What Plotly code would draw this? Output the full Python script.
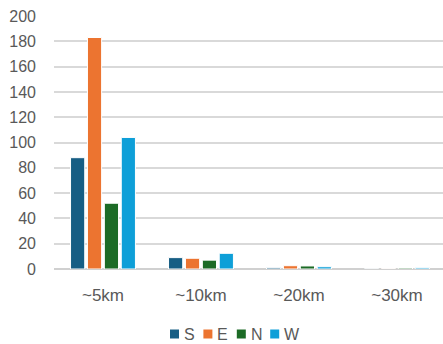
import plotly.graph_objects as go

categories = ["~5km", "~10km", "~20km", "~30km"]
series_names = ["S", "E", "N", "W"]
values_s = [88, 9, 1, 0.2]
values_e = [183, 8.5, 2.6, 0.3]
values_n = [52, 7, 2.4, 0.8]
values_w = [104, 12.4, 1.8, 1.0]
colors = ["#175E84", "#EC7430", "#1C6B26", "#0E9FD8"]
y_ticks = list(range(0, 201, 20))

W, H = 443, 344
ML, MR, MT, MB = 54, 0, 16, 75
PW, PH = W - ML - MR, H - MT - MB

fig = go.Figure()
for name, vals, col in zip(series_names, [values_s, values_e, values_n, values_w], colors):
    fig.add_trace(go.Bar(
        x=categories, y=vals, name=name, showlegend=False,
        marker=dict(color=col, line=dict(color="white", width=1)),
    ))

# compact key row under the axis: small square followed by the series name
def px_x(p):
    return (p - ML) / PW

def px_y(p):
    return (H - MB - p) / PH

key_left, key_pitch, key_size, key_cy = 170, 33.4, 9, 334
for i, (name, col) in enumerate(zip(series_names, colors)):
    x0 = key_left + i * key_pitch
    fig.add_shape(type="rect", xref="paper", yref="paper",
                  x0=px_x(x0), x1=px_x(x0 + key_size),
                  y0=px_y(key_cy - key_size / 2), y1=px_y(key_cy + key_size / 2),
                  fillcolor=col, line=dict(width=0))
    fig.add_annotation(text=name, xref="paper", yref="paper",
                       x=px_x(x0 + key_size + 3), y=px_y(key_cy),
                       xanchor="left", yanchor="middle", showarrow=False,
                       font=dict(size=16, color="#595959"))

font = dict(family="Liberation Sans, Arial, sans-serif", size=16, color="#595959")
fig.update_layout(
    width=W, height=H,
    margin=dict(l=ML, r=MR, t=MT, b=MB, autoexpand=False),
    paper_bgcolor="white", plot_bgcolor="white",
    barmode="group", bargap=0.31, bargroupgap=0.16,
    font=font,
    showlegend=False,
    xaxis=dict(range=[-0.5, 3.47], showgrid=False, showline=False, ticks="",
               ticklabelstandoff=14, tickfont=dict(size=17)),
    yaxis=dict(range=[0, 200], tickvals=y_ticks, showgrid=True, gridcolor="#D9D9D9",
               gridwidth=1.5, zeroline=True, zerolinecolor="#D0D0D0", zerolinewidth=1.5,
               ticks="", ticklabelstandoff=17, tickfont=font),
)

fig.write_html("out.html")
